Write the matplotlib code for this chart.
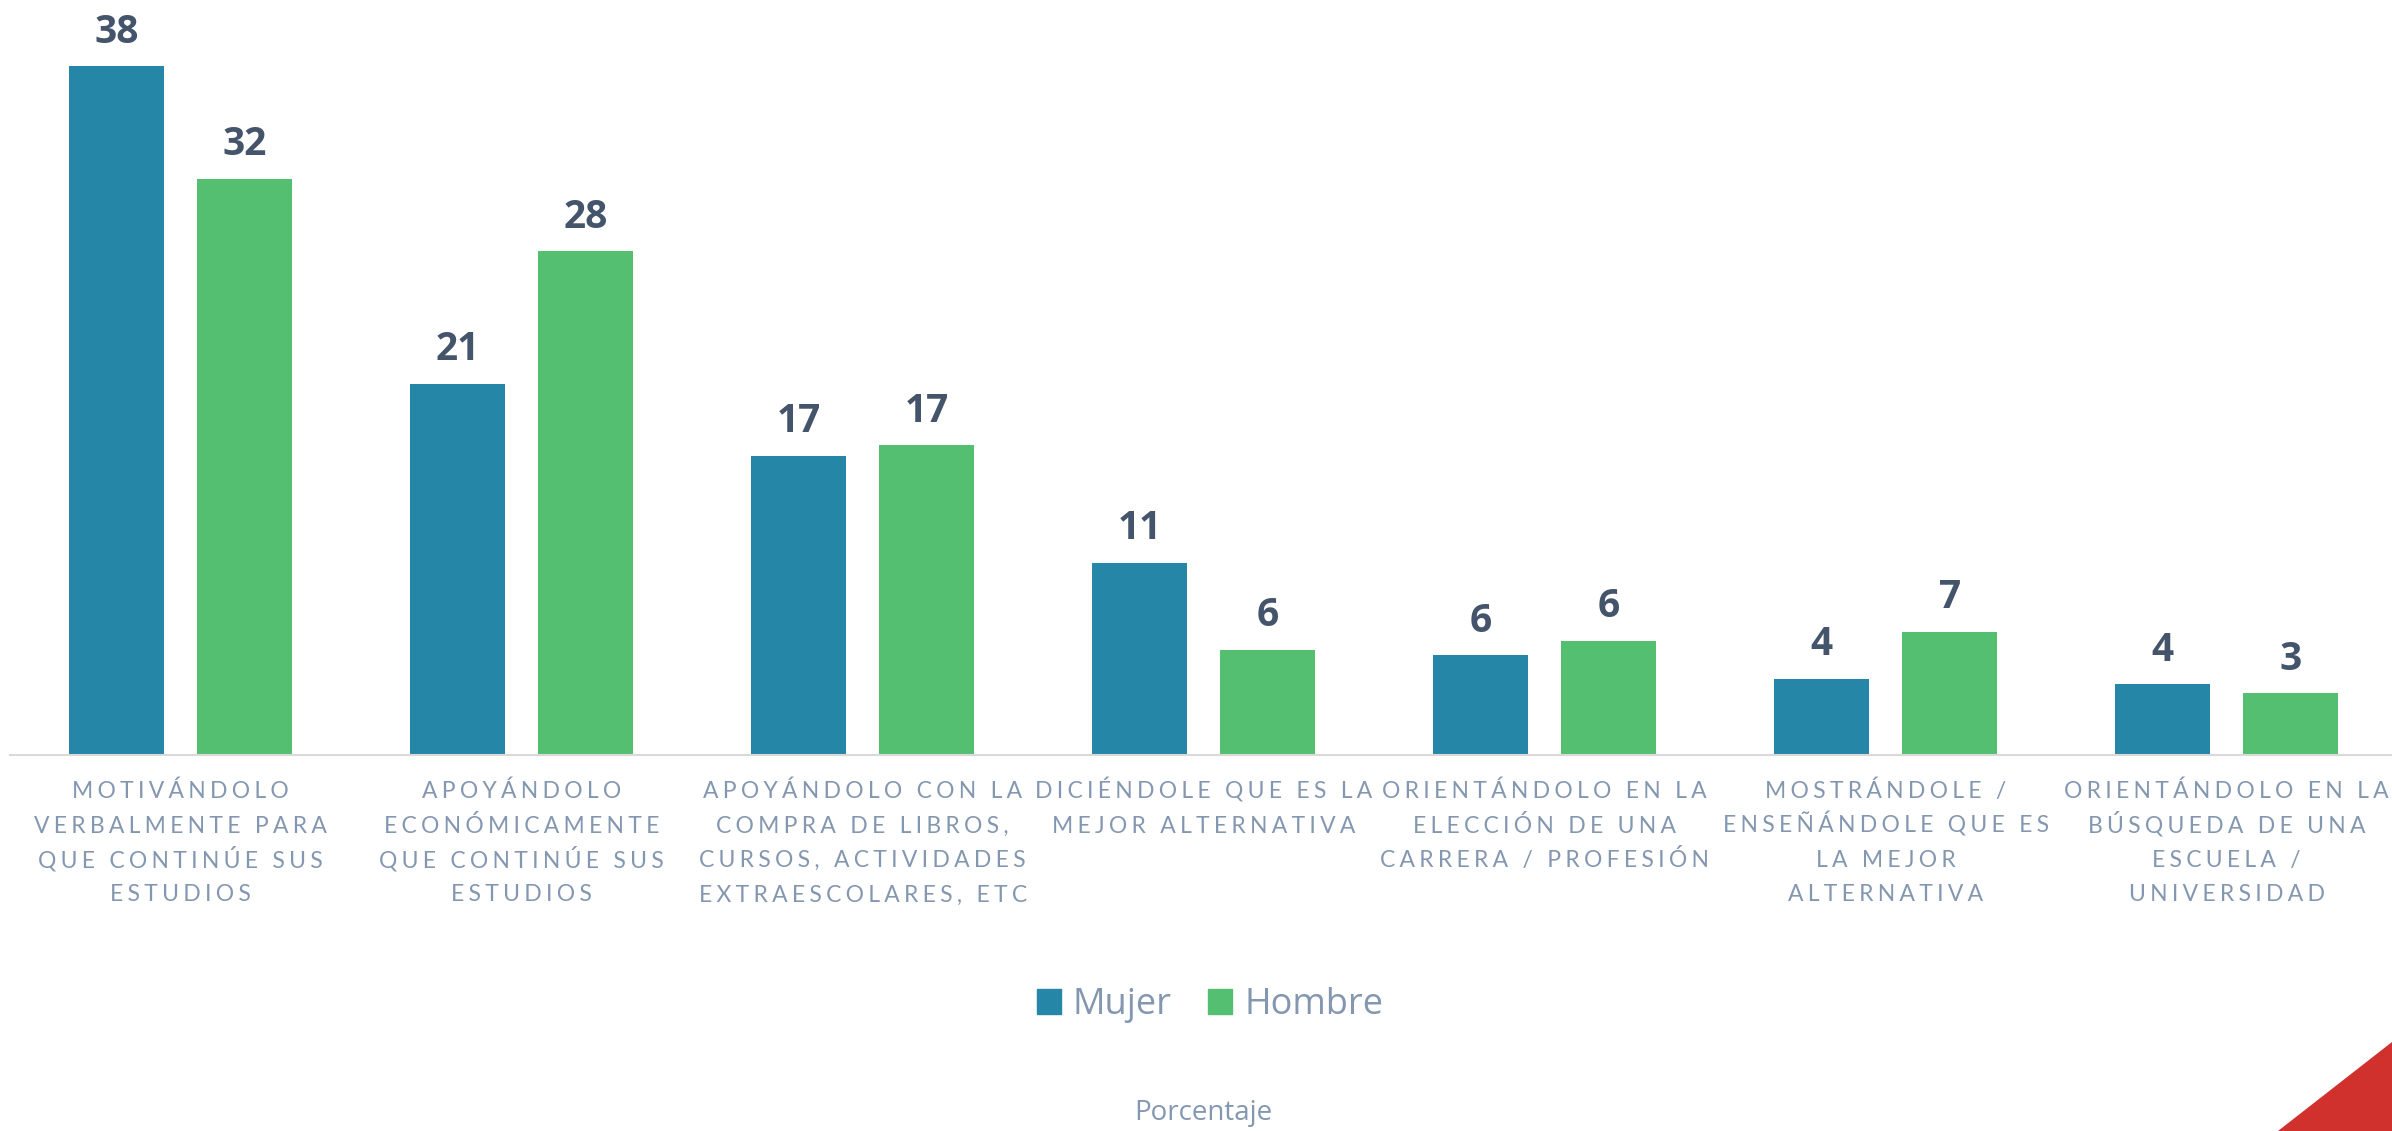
import numpy as np
import matplotlib.pyplot as plt
from matplotlib.patches import Patch, Polygon

# Datos (porcentaje)
categorias = [
    "MOTIVÁNDOLO\nVERBALMENTE PARA\nQUE CONTINÚE SUS\nESTUDIOS",
    "APOYÁNDOLO\nECONÓMICAMENTE\nQUE CONTINÚE SUS\nESTUDIOS",
    "APOYÁNDOLO CON LA\nCOMPRA DE LIBROS,\nCURSOS, ACTIVIDADES\nEXTRAESCOLARES, ETC",
    "DICIÉNDOLE QUE ES LA\nMEJOR ALTERNATIVA",
    "ORIENTÁNDOLO EN LA\nELECCIÓN DE UNA\nCARRERA / PROFESIÓN",
    "MOSTRÁNDOLE /\nENSEÑÁNDOLE QUE ES\nLA MEJOR\nALTERNATIVA",
    "ORIENTÁNDOLO EN LA\nBÚSQUEDA DE UNA\nESCUELA /\nUNIVERSIDAD",
]
mujer = [38.0, 20.5, 16.5, 10.6, 5.5, 4.2, 3.9]
hombre = [31.8, 27.8, 17.1, 5.8, 6.3, 6.8, 3.4]

c_mujer = "#2686A7"
c_hombre = "#54BF71"
c_texto = "#8497B0"
c_valor = "#44546A"


def espaciar(linea, sep="\u2009\u200a"):
    # simula el espaciado entre letras de las etiquetas
    return sep.join(linea)


fig = plt.figure(figsize=(23.92, 11.31), dpi=100)
ax = fig.add_axes([10 / 2392, 0.3324, 0.998, 0.6409])

x = np.arange(len(categorias))
ancho = 0.2785
desp = 0.1876

b1 = ax.bar(x - desp, mujer, ancho, color=c_mujer, label="Mujer")
b2 = ax.bar(x + desp, hombre, ancho, color=c_hombre, label="Hombre")

for barras in (b1, b2):
    for r in barras:
        v = r.get_height()
        ax.annotate(f"{int(v + 0.5)}", (r.get_x() + r.get_width() / 2, v),
                    xytext=(0, 17), textcoords="offset points",
                    ha="center", va="baseline", fontsize=28, fontweight="bold",
                    color=c_valor, family=["Open Sans", "DejaVu Sans"])

ax.set_xlim(-0.5, 6.5)
ax.set_ylim(0, 40)
ax.set_yticks([])
ax.set_xticks([])
for s in ["top", "right", "left"]:
    ax.spines[s].set_visible(False)
ax.spines["bottom"].set_color("#D9D9D9")
ax.spines["bottom"].set_linewidth(1.5)

# etiquetas de categoría, una línea a la vez para un interlineado uniforme
for i, cat in enumerate(categorias):
    for j, linea in enumerate(cat.split("\n")):
        ax.annotate(espaciar(linea), xy=(x[i], 0), xycoords=("data", "axes fraction"),
                    xytext=(0, -31 - 24.8 * j), textcoords="offset points",
                    ha="center", va="baseline", fontsize=16.5, color=c_texto,
                    family=["Lato", "DejaVu Sans"], annotation_clip=False)

handles = [Patch(color=c_mujer, label="Mujer"), Patch(color=c_hombre, label="Hombre")]
leg = fig.legend(handles=handles, loc="center", bbox_to_anchor=(1210 / 2392, 1 - 1005 / 1131),
                 ncol=2, frameon=False, handlelength=0.667, handleheight=0.667,
                 handletextpad=0.33, columnspacing=1.0, prop={"family": "Open Sans", "size": 26})
for t in leg.get_texts():
    t.set_color(c_texto)

fig.text(1203 / 2392, 1 - 1113 / 1131, "Porcentaje", ha="center", va="center",
         fontsize=20, color=c_texto, family="Open Sans")

# triángulo decorativo
fig.patches.append(Polygon([(2278 / 2392, 0), (1, 1 - 1042 / 1131), (1, 0)], closed=True,
                           transform=fig.transFigure, facecolor="#D0312D", edgecolor="none"))

fig.savefig("out.png", dpi=100)
